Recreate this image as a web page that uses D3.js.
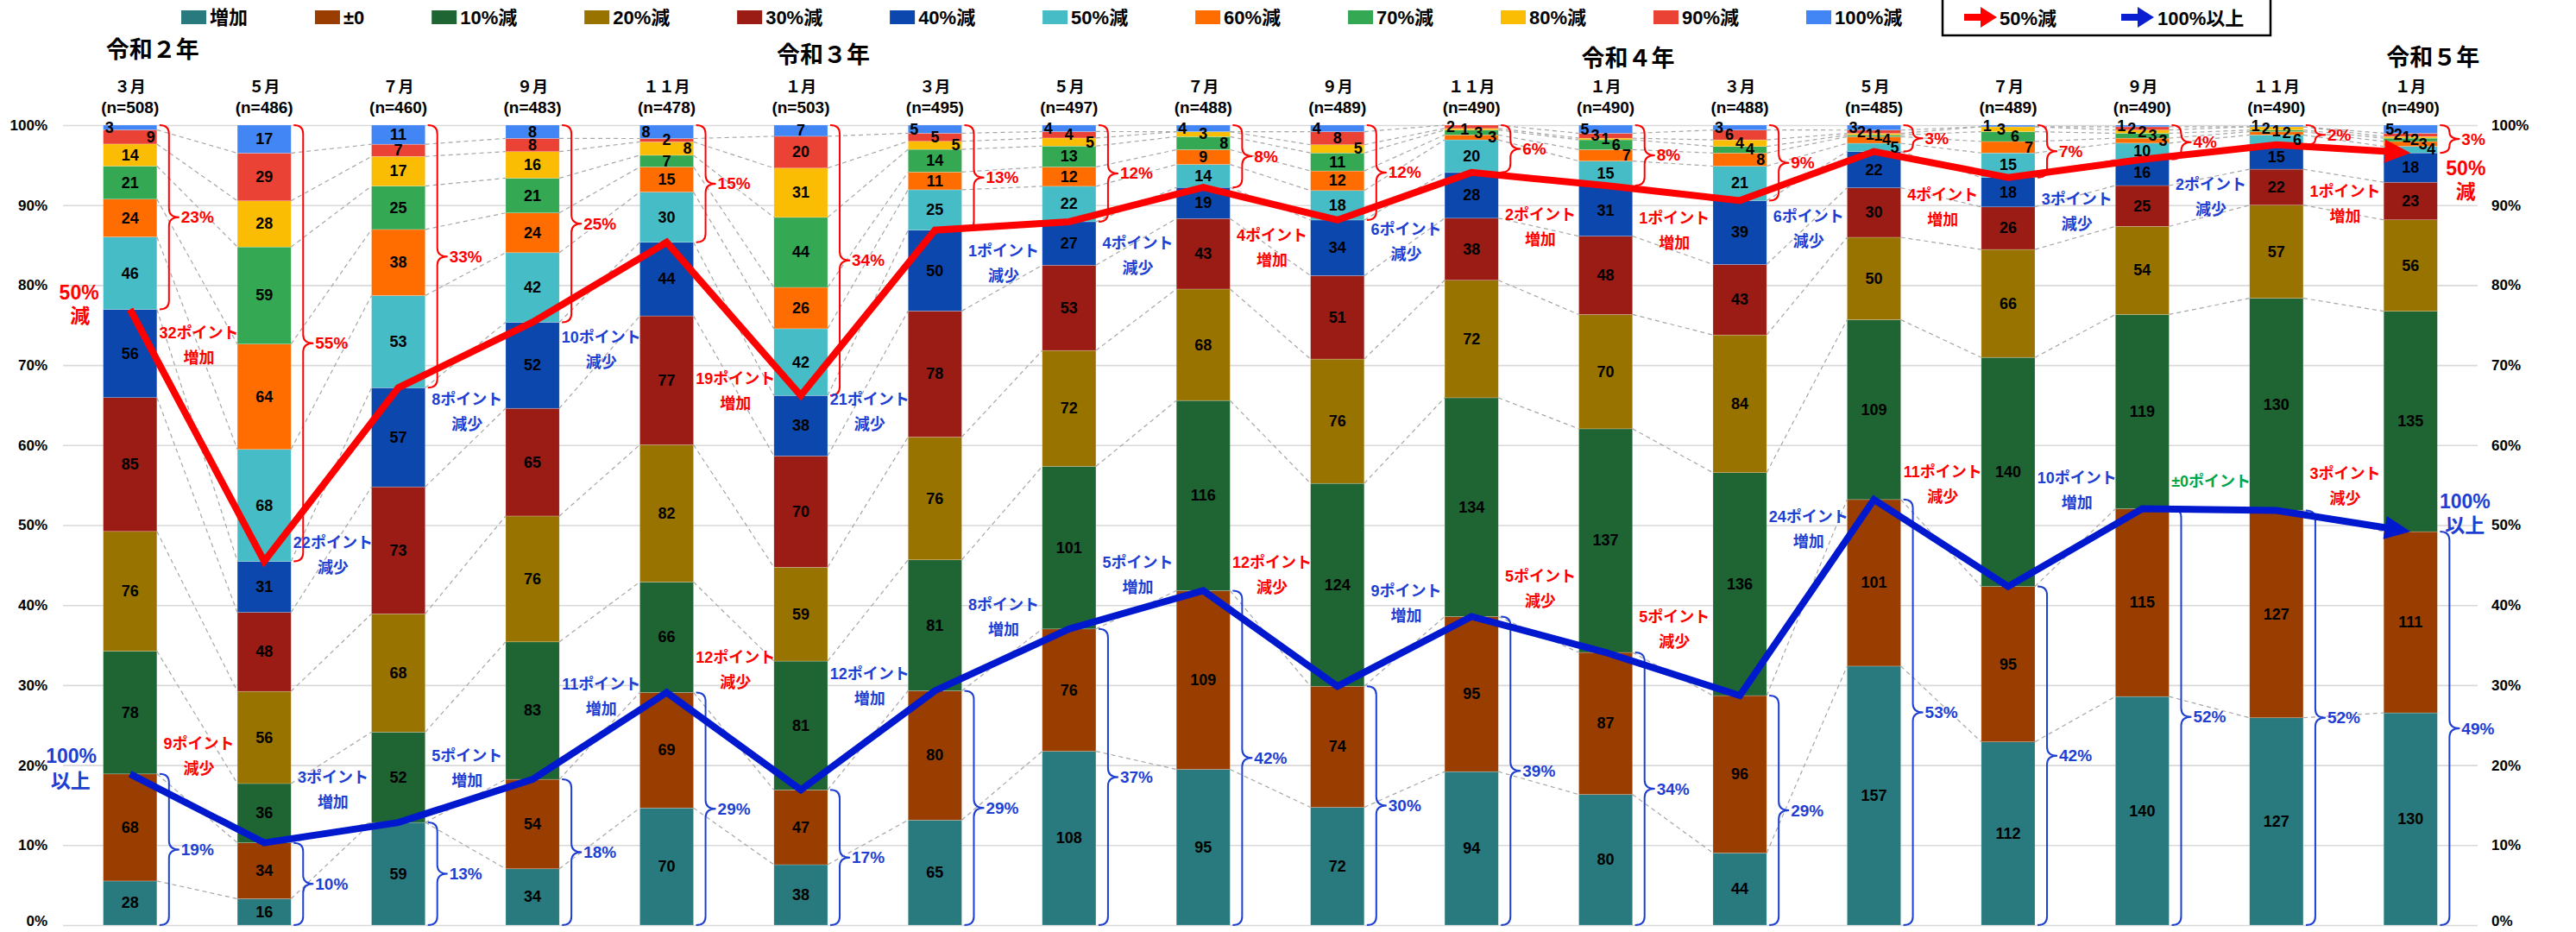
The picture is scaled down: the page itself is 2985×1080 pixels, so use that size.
<!DOCTYPE html>
<html lang="ja">
<head>
<meta charset="UTF-8">
<title>売上の前年同月比の推移</title>
<style>
  body { margin: 0; background: #fff; }
  text { font-family: "Liberation Sans", "Noto Sans CJK JP", sans-serif; font-weight: bold; }
</style>
</head>
<body>
<svg id="chart" width="2985" height="1080"></svg>
<script src="https://cdn.jsdelivr.net/npm/d3@7"></script>
<script>
/* global d3 */

// survey months and sample sizes
var months = ["３月", "５月", "７月", "９月", "１１月", "１月", "３月", "５月", "７月", "９月", "１１月", "１月",
              "３月", "５月", "７月", "９月", "１１月", "１月"];
var sampleSizes = [508, 486, 460, 483, 478, 503, 495, 497, 488, 489, 490, 490, 488, 485, 489, 490, 490, 490];
var yearNames = ["令和２年", "令和３年", "令和４年", "令和５年"];
var yearStart = [0, 5, 11, 17];

var categories = ["増加", "±0", "10%減", "20%減", "30%減", "40%減", "50%減", "60%減", "70%減", "80%減", "90%減", "100%減"];

// counts per category, one value per survey month
var zouka   = [28, 16, 59, 34, 70, 38, 65, 108, 95, 72, 94, 80, 44, 157, 112, 140, 127, 130];
var hold    = [68, 34, 0, 54, 69, 47, 80, 76, 109, 74, 95, 87, 96, 101, 95, 115, 127, 111];
var down10  = [78, 36, 52, 83, 66, 81, 81, 101, 116, 124, 134, 137, 136, 109, 140, 119, 130, 135];
var down20  = [76, 56, 68, 76, 82, 59, 76, 72, 68, 76, 72, 70, 84, 50, 66, 54, 57, 56];
var down30  = [85, 48, 73, 65, 77, 70, 78, 53, 43, 51, 38, 48, 43, 30, 26, 25, 22, 23];
var down40  = [56, 31, 57, 52, 44, 38, 50, 27, 19, 34, 28, 31, 39, 22, 18, 16, 15, 18];
var down50  = [46, 68, 53, 42, 30, 42, 25, 22, 14, 18, 20, 15, 21, 5, 15, 10, 6, 4];
var down60  = [24, 64, 38, 24, 15, 26, 11, 12, 9, 12, 3, 7, 8, 4, 7, 3, 2, 3];
var down70  = [21, 59, 25, 21, 7, 44, 14, 13, 8, 11, 3, 6, 4, 1, 6, 3, 1, 2];
var down80  = [14, 28, 17, 16, 8, 31, 5, 5, 3, 5, 1, 1, 4, 1, 3, 2, 2, 1];
var down90  = [9, 29, 7, 8, 2, 20, 5, 4, 0, 8, 2, 3, 6, 2, 0, 2, 0, 2];
var down100 = [3, 17, 11, 8, 8, 7, 5, 4, 4, 4, 0, 5, 3, 3, 1, 1, 1, 5];

var series = [zouka, hold, down10, down20, down30, down40, down50, down60, down70, down80, down90, down100];

var yTicks = [0, 0.1, 0.2, 0.3, 0.4, 0.5, 0.6, 0.7, 0.8, 0.9, 1];

// palette
var colors = ["#287A7E", "#993E00", "#1F6433", "#997300", "#9B1B15", "#0C47AE",
              "#46BDC6", "#FF6D01", "#34A853", "#FBBC04", "#EA4335", "#4285F4"];
var RED = "#FF0000", BLUE_LINE = "#0019CF", BLUE_TEXT = "#1E3FD2", GREEN_TEXT = "#00A64A";

// heights (in %) of the first line of each change note
var redNoteLevel  = [74, 47.8, 65.7, 73.5, 68.3, 65.7, 84.3, 85.2, 86.2, 86.9, 88.8, 88.3, 88.6, 91.3, 90.7, 92.6, 91.7];
var blueNoteLevel = [22.6, 18.5, 21.1, 30.1, 33.4, 31.4, 40, 45.3, 45.3, 41.8, 43.6, 38.5, 51, 56.6, 55.9, 55.5, 56.4];

var svg = d3.select("#chart");
var plotLeft = 73, plotRight = 2871, plotTop = 145, plotBottom = 1072;

var x = d3.scaleBand().domain(d3.range(months.length)).range([plotLeft, plotRight])
    .paddingInner(0.6).paddingOuter(0.3);
var y = d3.scaleLinear().domain([0, 1]).range([plotBottom, plotTop]);
var bw = x.bandwidth();
var cx = function(i) { return x(i) + bw / 2; };

var rows = months.map(function(m, i) {
    var r = {};
    series.forEach(function(s, k) { r[k] = s[i]; });
    return r;
});
var layers = d3.stack().keys(d3.range(categories.length)).offset(d3.stackOffsetExpand)(rows);

// share of "50%減 or more" and of "100%以上" (増加 + ±0)
var redShare = months.map(function(m, i) { return 1 - layers[5][i][1]; });
var blueShare = months.map(function(m, i) { return layers[1][i][1]; });
var redPct = redShare.map(function(v) { return Math.round(v * 100); });
var bluePct = blueShare.map(function(v) { return Math.round(v * 100); });

// ---- axes and grid
var fmt = d3.format(".0%");
var gLeft = svg.append("g").attr("transform", "translate(" + plotLeft + ",0)")
    .call(d3.axisLeft(y).tickValues(yTicks).tickFormat(fmt)
        .tickSize(-(plotRight - plotLeft)).tickPadding(18));
gLeft.select(".domain").remove();
gLeft.selectAll("line").attr("stroke", "#d9d9d9").attr("stroke-width", 1.6);
gLeft.selectAll("text").attr("font-size", 17).attr("fill", "#000");

var gRight = svg.append("g").attr("transform", "translate(" + plotRight + ",0)")
    .call(d3.axisRight(y).tickValues(yTicks).tickFormat(fmt).tickSize(0).tickPadding(16));
gRight.select(".domain").remove();
gRight.selectAll("text").attr("font-size", 17).attr("fill", "#000");

// keep the 0% labels inside the page
svg.selectAll(".tick").filter(function(d) { return d === 0; }).select("text").attr("dy", "0.05em");

// ---- stacked bars
svg.append("g").selectAll("g").data(layers).join("g")
    .attr("fill", function(d, k) { return colors[k]; })
    .selectAll("rect").data(function(d) { return d; }).join("rect")
    .attr("x", function(d, i) { return x(i); })
    .attr("y", function(d) { return y(d[1]); })
    .attr("width", bw)
    .attr("height", function(d) { return y(d[0]) - y(d[1]); })
    .attr("stroke", "#ffffff").attr("stroke-opacity", 0.35).attr("stroke-width", 0.6);

// ---- series lines between bars
var conn = svg.append("g").attr("stroke", "#a6a6a6").attr("stroke-width", 1.2)
    .attr("stroke-dasharray", "5,4").attr("fill", "none");
for (var i = 0; i < months.length - 1; i++) {
    for (var k = 0; k < categories.length - 1; k++) {
        conn.append("line")
            .attr("x1", x(i) + bw).attr("y1", y(layers[k][i][1]))
            .attr("x2", x(i + 1)).attr("y2", y(layers[k][i + 1][1]));
    }
}

// ---- braces with percentages
function bracePath(x0, ya, yb) {
    var xm = x0 + 11, xt = x0 + 23, ym = (ya + yb) / 2;
    var r = Math.min(10, (yb - ya) / 4);
    return "M" + x0 + "," + ya +
        " Q" + xm + "," + ya + " " + xm + "," + (ya + r) +
        " L" + xm + "," + (ym - r) +
        " Q" + xm + "," + ym + " " + xt + "," + ym +
        " Q" + xm + "," + ym + " " + xm + "," + (ym + r) +
        " L" + xm + "," + (yb - r) +
        " Q" + xm + "," + yb + " " + x0 + "," + yb;
}
var braces = svg.append("g");
months.forEach(function(m, i) {
    var x0 = x(i) + bw + 3;
    var ya = y(1), yb = y(1 - redShare[i]);
    braces.append("path").attr("d", bracePath(x0, ya, yb))
        .attr("fill", "none").attr("stroke", RED).attr("stroke-width", 2);
    braces.append("text").attr("x", x0 + 25).attr("y", (ya + yb) / 2)
        .attr("dominant-baseline", "central").attr("font-size", 19).attr("fill", RED)
        .text(redPct[i] + "%");
    var yc = y(blueShare[i]), yd = y(0);
    braces.append("path").attr("d", bracePath(x0, yc, yd))
        .attr("fill", "none").attr("stroke", BLUE_TEXT).attr("stroke-width", 2);
    braces.append("text").attr("x", x0 + 25).attr("y", (yc + yd) / 2)
        .attr("dominant-baseline", "central").attr("font-size", 19).attr("fill", BLUE_TEXT)
        .text(bluePct[i] + "%");
});

// ---- thick trend lines with arrow heads
function arrowLine(values, color, width) {
    var pts = values.map(function(v, i) { return [cx(i), y(v)]; });
    var n = pts.length, tip = pts[n - 1], prev = pts[n - 2];
    var dx = tip[0] - prev[0], dy = tip[1] - prev[1], len = Math.sqrt(dx * dx + dy * dy);
    var ux = dx / len, uy = dy / len, headLen = 30, headW = 27;
    var line = pts.slice(0, n - 1).concat([[tip[0] - ux * headLen * 0.6, tip[1] - uy * headLen * 0.6]]);
    svg.append("path").attr("d", d3.line()(line))
        .attr("fill", "none").attr("stroke", color).attr("stroke-width", width)
        .attr("stroke-linejoin", "miter").attr("stroke-miterlimit", 3);
    var bx = tip[0] - ux * headLen, by = tip[1] - uy * headLen;
    svg.append("polygon")
        .attr("points", [tip, [bx - uy * headW / 2, by + ux * headW / 2], [bx + uy * headW / 2, by - ux * headW / 2]]
            .map(function(p) { return p.join(","); }).join(" "))
        .attr("fill", color);
    return pts;
}
var redPts = arrowLine(redShare.map(function(v) { return 1 - v; }), RED, 8);
var bluePts = arrowLine(blueShare, BLUE_LINE, 8);

// ---- segment value labels
var segLabels = svg.append("g").attr("font-size", 18).attr("fill", "#000")
    .attr("text-anchor", "middle").attr("dominant-baseline", "central");
months.forEach(function(m, i) {
    var segs = [];
    for (var k = categories.length - 1; k >= 0; k--) {
        var v = series[k][i];
        if (!v) continue;
        var y0 = y(layers[k][i][0]), y1 = y(layers[k][i][1]);
        segs.push({ v: v, mid: (y0 + y1) / 2, h: y0 - y1 });
    }
    // labels that would collide are spread across the bar, top-left to bottom-right
    var groups = [], cur = [segs[0]];
    for (var j = 1; j < segs.length; j++) {
        var s = segs[j], p = cur[cur.length - 1];
        if (s.mid - p.mid < 13 && s.h < 18) cur.push(s);
        else { groups.push(cur); cur = [s]; }
    }
    groups.push(cur);
    var left = x(i) + 7, right = x(i) + bw - 7;
    groups.forEach(function(g) {
        g.forEach(function(s, j) {
            var lx = g.length === 1 ? cx(i) : left + j * (right - left) / (g.length - 1);
            segLabels.append("text").attr("x", lx).attr("y", s.mid).text(s.v);
        });
    });
});

// ---- change notes between bars
function note(level, diff, goodWhenUp, i) {
    var xm = cx(i) + x.step() / 2 + 2, yy = y(level / 100);
    var col, word;
    if (diff === 0) { col = GREEN_TEXT; word = null; }
    else if (diff > 0) { word = "増加"; col = goodWhenUp ? BLUE_TEXT : RED; }
    else { word = "減少"; col = goodWhenUp ? RED : BLUE_TEXT; }
    var g = svg.append("g").attr("font-size", 18).attr("fill", col)
        .attr("text-anchor", "middle").attr("dominant-baseline", "central");
    g.append("text").attr("x", xm).attr("y", yy)
        .text(diff === 0 ? "±0ポイント" : Math.abs(diff) + "ポイント");
    if (word) g.append("text").attr("x", xm).attr("y", yy + 29).text(word);
}
for (var n = 0; n < months.length - 1; n++) {
    note(redNoteLevel[n], redPct[n + 1] - redPct[n], false, n);
    note(blueNoteLevel[n], bluePct[n + 1] - bluePct[n], true, n);
}

// ---- line end labels
function endLabel(px, py, lines, col) {
    var g = svg.append("g").attr("font-size", 23).attr("fill", col).attr("text-anchor", "middle")
        .attr("dominant-baseline", "central");
    lines.forEach(function(t) { g.append("text").attr("x", px + t[1]).attr("y", py + t[2]).text(t[0]); });
}
var last = months.length - 1;
endLabel(x(0), redPts[0][1], [["50%", -28, -20], ["減", -27, 7]], RED);
endLabel(x(last) + bw, redPts[last][1], [["50%", 33, 18], ["減", 33, 45]], RED);
endLabel(x(0), bluePts[0][1], [["100%", -37, -21], ["以上", -38, 8]], BLUE_TEXT);
endLabel(x(last) + bw, bluePts[last][1], [["100%", 32, -35], ["以上", 32, -7]], BLUE_TEXT);

// ---- month headers and years
var heads = svg.append("g").attr("text-anchor", "middle").attr("dominant-baseline", "central")
    .attr("fill", "#000");
months.forEach(function(m, i) {
    heads.append("text").attr("x", cx(i)).attr("y", 101).attr("font-size", 18).text(m);
    heads.append("text").attr("x", cx(i)).attr("y", 124).attr("font-size", 19)
        .text("(n=" + sampleSizes[i] + ")");
});
var yearBase = [67, 73, 77, 76];
yearNames.forEach(function(t, j) {
    svg.append("text").attr("x", cx(yearStart[j]) + 26).attr("y", yearBase[j])
        .attr("text-anchor", "middle").attr("font-size", 27).attr("fill", "#000").text(t);
});

// ---- legend
var legend = svg.append("g").attr("font-size", 22).attr("fill", "#000");
var items = categories.map(function(c, k) {
    var t = legend.append("text").attr("y", 20).attr("dominant-baseline", "central").text(c);
    return { t: t, w: t.node().getComputedTextLength(), k: k };
});
var firstX = 210, lastX = 2093;
var used = d3.sum(items.slice(0, -1), function(d) { return 34 + d.w; });
var gap = (lastX - firstX - used) / (items.length - 1);
var lx = firstX;
items.forEach(function(d) {
    legend.append("rect").attr("x", lx).attr("y", 12).attr("width", 29).attr("height", 16)
        .attr("fill", colors[d.k]);
    d.t.attr("x", lx + 33);
    lx += 34 + d.w + gap;
});

var boxX = 2251;
svg.append("rect").attr("x", boxX).attr("y", -3).attr("width", 380).attr("height", 44)
    .attr("fill", "#fff").attr("stroke", "#000").attr("stroke-width", 2.5);
function legendArrow(x0, col) {
    svg.append("polygon")
        .attr("points", [[x0, 16], [x0 + 19, 16], [x0 + 19, 8], [x0 + 38, 20], [x0 + 19, 32], [x0 + 19, 24], [x0, 24]]
            .map(function(p) { return p.join(","); }).join(" "))
        .attr("fill", col);
}
legendArrow(boxX + 25, RED);
svg.append("text").attr("x", boxX + 66).attr("y", 21).attr("dominant-baseline", "central")
    .attr("font-size", 22).text("50%減");
legendArrow(boxX + 207, "#0a1fd0");
svg.append("text").attr("x", boxX + 249).attr("y", 21).attr("dominant-baseline", "central")
    .attr("font-size", 22).text("100%以上");
</script>
</body>
</html>
